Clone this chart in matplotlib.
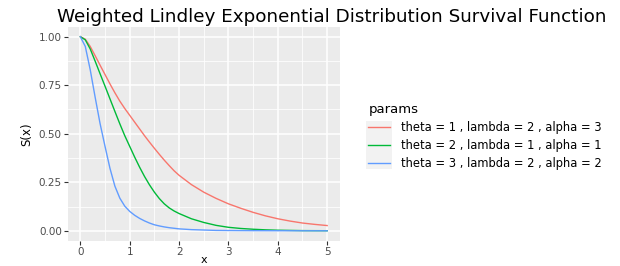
import matplotlib
matplotlib.use("Agg")
import matplotlib.pyplot as plt
from matplotlib.patches import Rectangle
from matplotlib.ticker import MultipleLocator

# values
x = [0, 0.1, 0.2, 0.3, 0.4, 0.5, 0.6, 0.7, 0.8, 0.9, 1.0, 1.1, 1.2, 1.3, 1.4,
     1.5, 1.6, 1.7, 1.8, 1.9, 2.0, 2.25, 2.5, 2.75, 3.0, 3.25, 3.5, 3.75,
     4.0, 4.25, 4.5, 4.75, 5.0]
s_red = [1.000, 0.987, 0.950, 0.902, 0.853, 0.805, 0.757, 0.711, 0.668, 0.630,
         0.595, 0.560, 0.525, 0.490, 0.457, 0.425, 0.394, 0.364, 0.336, 0.309,
         0.286, 0.238, 0.199, 0.167, 0.139, 0.116, 0.095, 0.077, 0.062, 0.050,
         0.040, 0.033, 0.027]
s_green = [1.000, 0.984, 0.937, 0.874, 0.809, 0.745, 0.680, 0.615, 0.551, 0.490,
           0.435, 0.380, 0.328, 0.280, 0.237, 0.199, 0.166, 0.139, 0.118, 0.102,
           0.089, 0.062, 0.043, 0.028, 0.018, 0.012, 0.008, 0.005, 0.003, 0.002,
           0.001, 0.0007, 0.0005]
s_blue = [1.000, 0.950, 0.830, 0.688, 0.552, 0.435, 0.322, 0.230, 0.168, 0.127,
          0.100, 0.080, 0.064, 0.051, 0.040, 0.031, 0.025, 0.020, 0.016, 0.013,
          0.010, 0.006, 0.004, 0.002, 0.0015, 0.001, 0.0007, 0.0005, 0.0003,
          0.0002, 0.0001, 0.0001, 0.0]

labels = ["theta = 1 , lambda = 2 , alpha = 3",
          "theta = 2 , lambda = 1 , alpha = 1",
          "theta = 3 , lambda = 2 , alpha = 2"]
colors = ["#F8766D", "#00BA38", "#619CFF"]

plt.rcParams['font.family'] = ['DejaVu Sans']

fig = plt.figure(figsize=(6.2, 2.66), dpi=100)
W, H = 620, 266
ax = fig.add_axes([68 / W, 1 - 240.5 / H, (339.5 - 68) / W, (240.5 - 27) / H])

ax.set_facecolor("#EBEBEB")
for sp in ax.spines.values():
    sp.set_visible(False)

for ys, c, lab in zip([s_red, s_green, s_blue], colors, labels):
    ax.plot(x, ys, color=c, lw=1.0, label=lab)

ax.set_xlim(-0.25, 5.25)
ax.set_ylim(-0.05, 1.05)
ax.xaxis.set_major_locator(MultipleLocator(1))
ax.xaxis.set_minor_locator(MultipleLocator(0.5))
ax.yaxis.set_major_locator(MultipleLocator(0.25))
ax.yaxis.set_minor_locator(MultipleLocator(0.125))
ax.yaxis.set_major_formatter(lambda v, p: f"{v:.2f}")
ax.grid(which='major', color='white', lw=1.1)
ax.grid(which='minor', color='white', lw=0.55)
ax.set_axisbelow(True)
ax.tick_params(which='major', length=3, width=0.8, color='#333333',
               labelsize=7.5, labelcolor='#4D4D4D', pad=1.5)
ax.tick_params(which='minor', length=0)

ax.set_xlabel("x", fontsize=8, labelpad=-1.5)
ax.set_ylabel("S(x)", fontsize=8.5, labelpad=4)

fig.text(57 / W, 1 - 17 / H, "Weighted Lindley Exponential Distribution Survival Function",
         fontsize=13.2, va='center', ha='left')

leg = ax.legend(loc='upper left', bbox_to_anchor=(358 / W, 1 - 93 / H),
                bbox_transform=fig.transFigure, frameon=False,
                title="params", fontsize=8.3, title_fontsize=9.5,
                handlelength=1.9, handletextpad=0.95, labelspacing=0.42,
                alignment='left')

# grey key background like ggplot's legend.key
fig.canvas.draw()
r = fig.canvas.get_renderer()
boxes = [h.get_window_extent(r) for h in leg.get_lines()]
x0 = min(b.x0 for b in boxes) - 2
x1 = max(b.x1 for b in boxes) + 2
y0 = min(b.y0 for b in boxes) - 6
y1 = max(b.y1 for b in boxes) + 6
fig.patches.append(Rectangle((x0 / W, y0 / H), (x1 - x0) / W, (y1 - y0) / H,
                             transform=fig.transFigure, facecolor='#F2F2F2',
                             edgecolor='none', zorder=-1))

fig.savefig("out.png", dpi=100)
